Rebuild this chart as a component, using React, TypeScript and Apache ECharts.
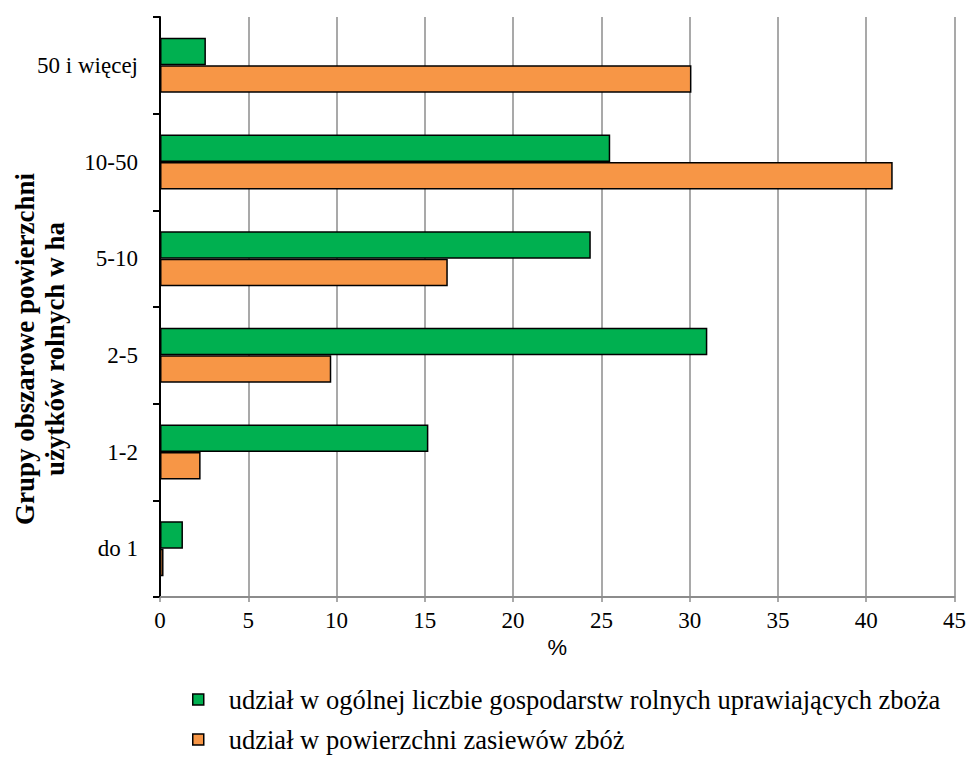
import React, { useEffect, useRef } from "react";
import * as echarts from "echarts";

const categories = ["do 1", "1-2", "2-5", "5-10", "10-50", "50 i więcej"];
const farmsShare = [1.3, 15.2, 31.0, 24.4, 25.5, 2.6];
const areaShare = [0.2, 2.3, 9.7, 16.3, 41.5, 30.1];
const seriesNames = [
  "udział w ogólnej liczbie gospodarstw rolnych uprawiających zboża",
  "udział w powierzchni zasiewów zbóż",
];
const xTicks = { min: 0, max: 45, interval: 5 };
const xAxisTitle = "%";
const yAxisTitle = "Grupy obszarowe powierzchni\nużytków rolnych w ha";

const SERIF = "Liberation Serif, serif";

export default function App() {
  const ref = useRef<HTMLDivElement>(null);
  useEffect(() => {
    if (!ref.current) return;
    const chart = echarts.init(ref.current, undefined, { renderer: "svg" });
    chart.setOption({
      animation: false,
      backgroundColor: "#ffffff",
      textStyle: { fontFamily: SERIF },
      grid: { left: 160, right: 13, top: 17, bottom: 186, containLabel: false },
      legend: {
        orient: "vertical",
        left: 192,
        top: 686,
        padding: 0,
        itemWidth: 11,
        itemHeight: 11,
        itemGap: 13,
        icon: "rect",
        data: [seriesNames[0], seriesNames[1]],
        textStyle: {
          fontFamily: SERIF,
          fontSize: 26.5,
          color: "#000",
          padding: [0, 0, 0, 20],
        },
        itemStyle: { borderColor: "#000", borderWidth: 1.5 },
      },
      xAxis: {
        type: "value",
        min: xTicks.min,
        max: xTicks.max,
        interval: xTicks.interval,
        name: xAxisTitle,
        nameLocation: "middle",
        nameGap: 29,
        nameTextStyle: { fontFamily: "Liberation Sans, sans-serif", fontSize: 22, color: "#000", verticalAlign: "top" },
        axisLine: { show: true, lineStyle: { color: "#8c8c8c", width: 2 } },
        axisTick: { show: true, length: 5, lineStyle: { color: "#8c8c8c", width: 1.5 } },
        axisLabel: { fontFamily: SERIF, fontSize: 23, color: "#000", margin: 12 },
        splitLine: { show: true, lineStyle: { color: "#8c8c8c", width: 1.5 } },
      },
      yAxis: {
        type: "category",
        data: categories,
        axisLine: { show: true, lineStyle: { color: "#000", width: 2 } },
        axisTick: { show: true, length: 7, lineStyle: { color: "#000", width: 2 } },
        axisLabel: { fontFamily: SERIF, fontSize: 23, color: "#000", margin: 22 },
        splitLine: { show: false },
      },
      graphic: [
        {
          type: "text",
          x: 40,
          y: 349,
          rotation: Math.PI / 2,
          style: {
            text: yAxisTitle,
            fontFamily: SERIF,
            fontWeight: "bold",
            fontSize: 27,
            lineHeight: 30,
            fill: "#000",
            align: "center",
            verticalAlign: "middle",
          },
        },
      ],
      series: [
        {
          name: seriesNames[0],
          type: "bar",
          data: farmsShare,
          barWidth: 27.5,
          barGap: "0%",
          itemStyle: { color: "#00B050", borderColor: "#000", borderWidth: 1.5 },
        },
        {
          name: seriesNames[1],
          type: "bar",
          data: areaShare,
          barWidth: 27.5,
          barGap: "0%",
          itemStyle: { color: "#F79646", borderColor: "#000", borderWidth: 1.5 },
        },
      ],
    });
    return () => chart.dispose();
  }, []);
  return <div ref={ref} style={{ width: 969, height: 783, position: "absolute", left: 0, top: 0 }} />;
}
